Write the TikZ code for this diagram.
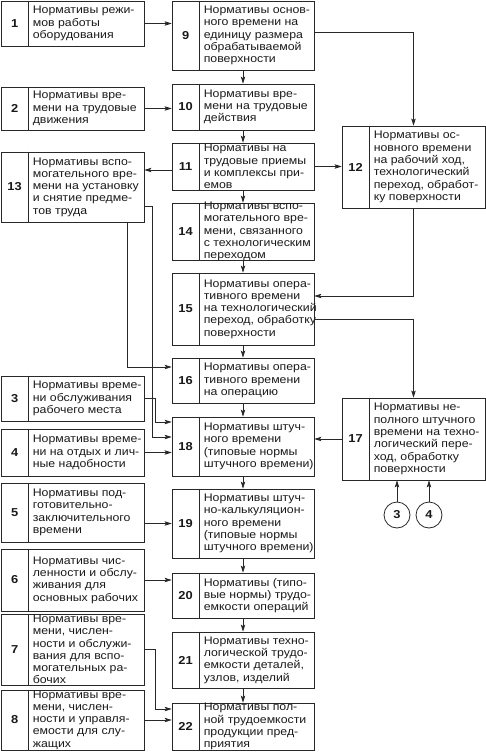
\documentclass[tikz,border=0pt]{standalone}
\usepackage{fontspec}
\setmainfont{Liberation Sans}[FakeStretch=1.12]
\usetikzlibrary{arrows.meta,calc}
\definecolor{normline}{RGB}{40,40,40}
\definecolor{normtext}{RGB}{25,25,25}

\tikzset{
  box/.style={draw=normline,line width=0.8pt,rectangle,inner sep=0pt},
  boxline/.style={draw=normline,line width=0.8pt},
  numlabel/.style={font=\bfseries\fontsize{11.5}{14}\selectfont,text=normtext,inner sep=0pt},
  boxtext/.style={anchor=west,align=left,inner sep=0pt,text=normtext,
    font=\fontsize{11}{12.3}\selectfont},
  circ/.style={draw=normline,line width=0.8pt,circle,minimum size=26pt,inner sep=0pt,
    font=\bfseries\fontsize{11.5}{14}\selectfont,text=normtext},
  link/.style={draw=normline,line width=0.8pt,-{Stealth[length=7pt,width=4.5pt,inset=1.5pt]}}
}

% name, x1, y1, x2, y2, number, text
\newcommand{\normbox}[7]{%
  \node[box,minimum width={#4pt-#2pt},minimum height={#5pt-#3pt}] (#1) at ({(#2+#4)/2},{(#3+#5)/2}) {};
  \draw[boxline] ([xshift=28pt]#1.north west) -- ([xshift=28pt]#1.south west);
  \node[numlabel] (#1n) at ([xshift=14pt]#1.west) {#6};
  \node[boxtext] (#1t) at ([xshift=32pt]#1.west) {#7};
}

\begin{document}
\begin{tikzpicture}[x=1pt,y=-1pt]
    \useasboundingbox (0,0) rectangle (486,752);

    % Left column
    \normbox{b1}{1}{1}{144}{46}{1}{Нормативы режи-\\мов работы\\оборудования}
    \normbox{b2}{1}{87}{144}{130}{2}{Нормативы вре-\\мени на трудовые\\движения}
    \normbox{b13}{1}{152}{144}{222}{13}{Нормативы вспо-\\могательного вре-\\мени на установку\\и снятие предме-\\тов труда}
    \normbox{b3}{1}{376}{144}{421}{3}{Нормативы време-\\ни обслуживания\\рабочего места}
    \normbox{b4}{1}{429}{144}{476}{4}{Нормативы време-\\ни на отдых и лич-\\ные надобности}
    \normbox{b5}{1}{483}{144}{542}{5}{Нормативы под-\\готовительно-\\заключительного\\времени}
    \normbox{b6}{1}{549}{144}{611}{6}{Нормативы чис-\\ленности и обслу-\\живания для\\основных рабочих}
    \normbox{b7}{1}{614}{144}{685}{7}{Нормативы вре-\\мени, числен-\\ности и обслужи-\\вания для вспо-\\могательных ра-\\бочих}
    \normbox{b8}{1}{690}{144}{750}{8}{Нормативы вре-\\мени, числен-\\ности и управля-\\емости для слу-\\жащих}

    % Middle column
    \normbox{b9}{172}{1}{314}{70}{9}{Нормативы основ-\\ного времени на\\единицу размера\\обрабатываемой\\поверхности}
    \normbox{b10}{172}{84}{314}{130}{10}{Нормативы вре-\\мени на трудовые\\действия}
    \normbox{b11}{172}{143}{314}{190}{11}{Нормативы на\\трудовые приемы\\и комплексы при-\\емов}
    \normbox{b14}{172}{203}{314}{260}{14}{Нормативы вспо-\\могательного вре-\\мени, связанного\\с технологическим\\переходом}
    \normbox{b15}{172}{273}{314}{345}{15}{Нормативы опера-\\тивного времени\\на технологический\\переход, обработку\\поверхности}
    \normbox{b16}{172}{358}{314}{403}{16}{Нормативы опера-\\тивного времени\\на операцию}
    \normbox{b18}{172}{417}{314}{476}{18}{Нормативы штуч-\\ного времени\\(типовые нормы\\штучного времени)}
    \normbox{b19}{172}{489}{314}{558}{19}{Нормативы штуч-\\но-калькуляцион-\\ного времени\\(типовые нормы\\штучного времени)}
    \normbox{b20}{172}{573}{314}{618}{20}{Нормативы (типо-\\вые нормы) трудо-\\емкости операций}
    \normbox{b21}{172}{632}{314}{688}{21}{Нормативы техно-\\логической трудо-\\емкости деталей,\\узлов, изделий}
    \normbox{b22}{172}{703}{314}{750}{22}{Нормативы пол-\\ной трудоемкости\\продукции пред-\\приятия}

    % Right column
    \normbox{b12}{342}{126}{485}{208}{12}{Нормативы ос-\\новного времени\\на рабочий ход,\\технологический\\переход, обработ-\\ку поверхности}
    \normbox{b17}{342}{398}{485}{480}{17}{Нормативы не-\\полного штучного\\времени на техно-\\логический пере-\\ход, обработку\\поверхности}

    % Circles
    \node[circ] (c3) at (397,515) {3};
    \node[circ] (c4) at (429,515) {4};

    % Main chain
    \foreach \a/\b in {b9/b10,b10/b11,b11/b14,b14/b15,b15/b16,b16/b18,b18/b19,b19/b20,b20/b21,b21/b22}
        \draw[link] (\a.south) -- (\b.north);

    % Inputs from the left
    \draw[link] (b1.east) -- (b1.east -| b9.west);
    \draw[link] (b2.east) -- (b2.east -| b10.west);
    \draw[link] (b4.east) -- (b4.east -| b18.west);
    \draw[link] (b5.east |- b19.west) -- (b19.west);
    \draw[link] (b6.east) -- (b6.east -| b20.west);
    \draw[link] (b8.east) -- (b8.east -| b22.west);
    \draw[link] (b3.east) -- ++(11,0) |- ([yshift=24.5pt]b18.west);
    \draw[link] (b7.east) -- ++(11,0) |- ([yshift=17.5pt]b22.west);

    % Block 13
    \draw[link] ([yshift=-3.5pt]b11.west) -- ([yshift=-3.5pt]b11.west -| b13.east);
    \draw[link] ([xshift=54.5pt]b13.south) |- ([yshift=13.5pt]b16.west);
    \draw[link] ([yshift=-19pt]b13.east) -- ++(8,0) |- ([yshift=9.5pt]b18.west);

    % Right side
    \draw[link] ([yshift=3.5pt]b9.east) -| (b12.north);
    \draw[link] (b11.east) -- (b11.east -| b12.west);
    \draw[link] (b12.south) |- ([yshift=13pt]b15.east);
    \draw[link] ([yshift=-10pt]b15.east) -| (b17.north);
    \draw[link] (b17.west) -- (b17.west -| b18.east);
    \draw[link] (c3.north) -- (c3.north |- b17.south);
    \draw[link] (c4.north) -- (c4.north |- b17.south);
\end{tikzpicture}
\end{document}
